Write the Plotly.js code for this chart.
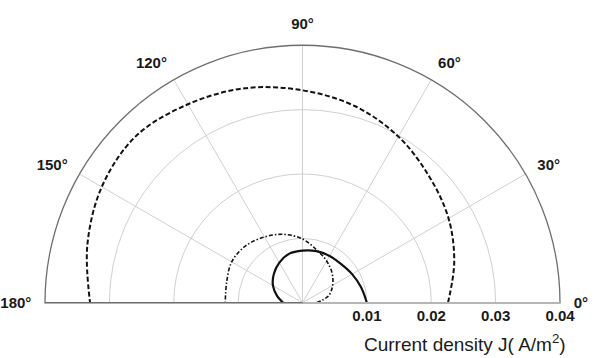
<!DOCTYPE html>
<html>
<head>
<meta charset="utf-8">
<script src="https://cdn.plot.ly/plotly-3.0.1.min.js"></script>
<style>html,body{margin:0;padding:0;background:#fff;}#chart{width:597px;height:358px;}</style>
</head>
<body>
<div id="chart"></div>
<script>
// Angles (degrees) at which curves were read
var thetaDeg = [0, 15, 30, 45, 60, 75, 90, 105, 120, 135, 150, 165, 180];
// Current density J (A/m^2)
var solidJ   = [0.0100, 0.0094, 0.0089, 0.0085, 0.0084, 0.0083, 0.0081, 0.0079, 0.0072, 0.0063, 0.0053, 0.0041, 0.0030];
var dashDotJ = [0.0022, 0.0042, 0.0054, 0.0065, 0.0075, 0.0085, 0.0099, 0.0110, 0.0118, 0.0125, 0.0127, 0.0122, 0.0120];
var dashedJ  = [0.0226, 0.0244, 0.0262, 0.0278, 0.0298, 0.0316, 0.0330, 0.0345, 0.0356, 0.0366, 0.0360, 0.0346, 0.0330];

var radialTicks = [0.01, 0.02, 0.03, 0.04];
var radialTickText = ['0.01', '0.02', '0.03', '0.04'];
var angleTicks = [0, 30, 60, 90, 120, 150, 180];
var angleTickText = ['0°', '30°', '60°', '90°', '120°', '150°', '180°'];
var radialTitle = 'Current density J( A/m<sup>2</sup>)';

function tr(r, dash, w) {
  return {
    type: 'scatterpolar', mode: 'lines', r: r, theta: thetaDeg,
    line: {color: '#111', width: w, dash: dash, shape: 'spline'},
    showlegend: false, hoverinfo: 'skip'
  };
}

var data = [
  tr(dashedJ, '5px,2.5px', 2),
  tr(dashDotJ, '4px,2px,1.5px,2px', 1.6),
  tr(solidJ, 'solid', 2.2)
];

var layout = {
  width: 597, height: 358,
  margin: {l: 45, r: 37, t: 45, b: 55, pad: 0},
  paper_bgcolor: '#fff',
  font: {family: 'Arial, "Liberation Sans", sans-serif', color: '#1a1a1a'},
  polar: {
    sector: [0, 180],
    bgcolor: '#fff',
    radialaxis: {
      range: [0, 0.04], tickmode: 'array', tickvals: radialTicks, ticktext: radialTickText,
      showline: true, linecolor: '#cccccc', linewidth: 1,
      gridcolor: '#d0d0d0', gridwidth: 1, ticks: '', angle: 0,
      tickfont: {size: 15, color: '#1a1a1a', weight: 'bold'}
    },
    angularaxis: {
      tickmode: 'array', tickvals: angleTicks, ticktext: angleTickText,
      direction: 'counterclockwise', rotation: 0,
      showline: true, linecolor: '#6e6e6e', linewidth: 1.3,
      gridcolor: '#d0d0d0', gridwidth: 1,
      ticks: 'outside', ticklen: 10, tickcolor: 'rgba(0,0,0,0)',
      tickfont: {size: 15, color: '#1a1a1a', weight: 'bold'}
    }
  },
  annotations: [{
    xref: 'paper', yref: 'paper', x: 1.0155, y: -0.155,
    xanchor: 'right', yanchor: 'middle', showarrow: false,
    text: radialTitle, font: {size: 19, color: '#1a1a1a'}
  }]
};

Plotly.newPlot('chart', data, layout, {displayModeBar: false, staticPlot: true});
</script>
</body>
</html>
